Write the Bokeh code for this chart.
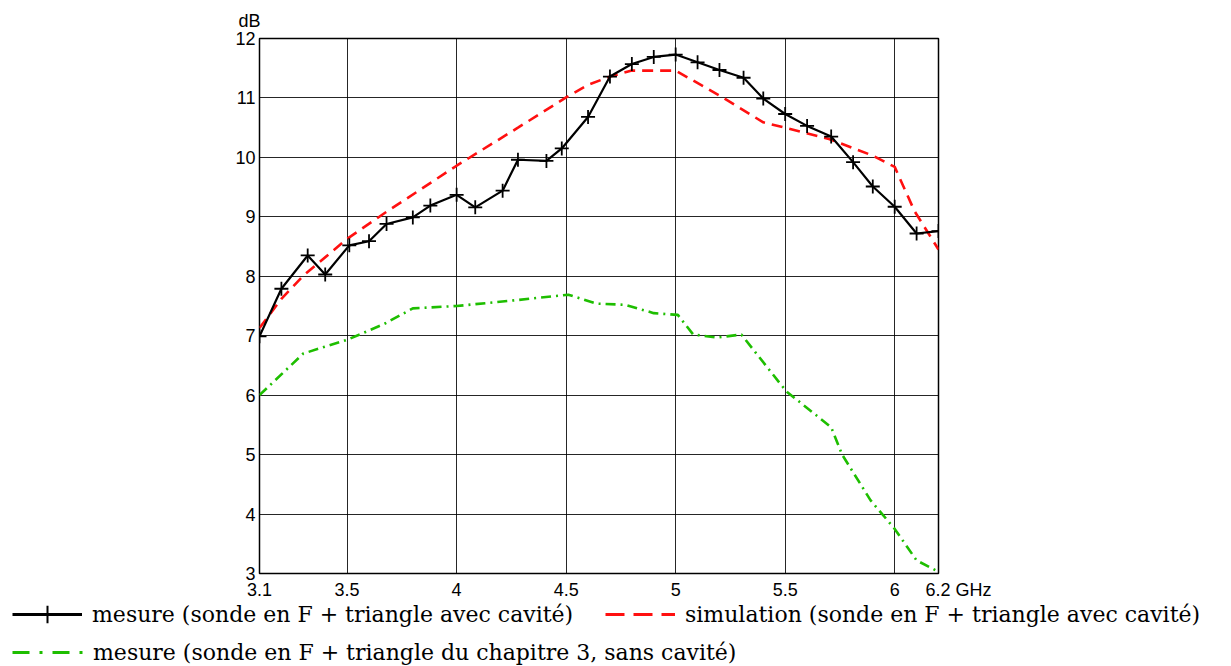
from bokeh.plotting import figure
from bokeh.models import Range1d, FixedTicker, Legend, LegendItem, Title
from bokeh.layouts import column, row
from bokeh.embed import file_html
from bokeh.resources import INLINE

# measured (sonde en F + triangle avec cavité)
mes_f = [3.10, 3.20, 3.32, 3.40, 3.51, 3.60, 3.68, 3.80, 3.88, 4.00, 4.085, 4.21, 4.28, 4.41, 4.48,
         4.60, 4.70, 4.80, 4.90, 5.00, 5.10, 5.20, 5.31, 5.40, 5.50, 5.60, 5.71, 5.81, 5.90, 6.00, 6.10, 6.20]
mes_db = [6.99, 7.79, 8.35, 8.03, 8.52, 8.59, 8.88, 8.99, 9.19, 9.37, 9.16, 9.44, 9.96, 9.94, 10.15,
          10.68, 11.36, 11.57, 11.69, 11.73, 11.60, 11.47, 11.34, 10.99, 10.73, 10.53, 10.35, 9.92, 9.51, 9.17, 8.72, 8.76]

# simulation (sonde en F + triangle avec cavité)
sim_f = [3.10, 3.20, 3.30, 3.50, 3.67, 4.00, 4.28, 4.50, 4.60, 4.70, 4.80, 5.00, 5.20, 5.40, 5.50,
         5.70, 5.90, 6.00, 6.09, 6.20]
sim_db = [7.13, 7.62, 8.01, 8.63, 9.06, 9.86, 10.50, 11.01, 11.22, 11.36, 11.46, 11.46, 11.04, 10.59, 10.50,
          10.31, 10.03, 9.84, 9.10, 8.45]

# measured (sonde en F + triangle du chapitre 3, sans cavité)
ch3_f = [3.10, 3.30, 3.42, 3.50, 3.67, 3.80, 4.00, 4.25, 4.51, 4.64, 4.77, 4.90, 5.01, 5.08, 5.19, 5.30,
         5.48, 5.51, 5.71, 5.76, 5.89, 6.00, 6.10, 6.20]
ch3_db = [6.00, 6.70, 6.84, 6.93, 7.20, 7.46, 7.50, 7.59, 7.69, 7.54, 7.52, 7.38, 7.35, 7.02, 6.97, 7.02,
          6.18, 6.05, 5.46, 5.00, 4.23, 3.75, 3.22, 3.03]

x_ticks = [3.1, 3.5, 4, 4.5, 5, 5.5, 6, 6.2]
x_labels = ["3.1", "3.5", "4", "4.5", "5", "5.5", "6", "\u00a0" * 8 + "6.2\u00a0GHz"]
y_ticks = [3, 4, 5, 6, 7, 8, 9, 10, 11, 12]

label_mes = "mesure (sonde en F + triangle avec cavité)"
label_sim = "simulation (sonde en F + triangle avec cavité)"
label_ch3 = "mesure (sonde en F + triangle du chapitre 3, sans cavité)"

RED = "#ff1010"
GREEN = "#1ebe00"

p = figure(frame_width=679, frame_height=535, output_backend="svg", toolbar_location=None,
           x_range=Range1d(3.1, 6.2), y_range=Range1d(3, 12),
           title=Title(text="dB", align="left", offset=-21, standoff=16,
                       text_font="Liberation Sans", text_font_size="18px",
                       text_font_style="normal", text_color="black"))
p.min_border_left = 259
p.min_border_right = 287
p.min_border_top = 38
p.min_border_bottom = 27
p.background_fill_color = "white"
p.border_fill_color = "white"
p.outline_line_color = "black"
p.outline_line_width = 1.5

p.xaxis.ticker = FixedTicker(ticks=x_ticks)
p.xaxis.major_label_overrides = {t: l for t, l in zip(x_ticks, x_labels)}
p.yaxis.ticker = FixedTicker(ticks=y_ticks)
p.yaxis.major_label_overrides = {t: str(t) for t in y_ticks}
for ax in (p.xaxis, p.yaxis):
    ax.axis_line_color = None
    ax.major_tick_line_color = None
    ax.minor_tick_line_color = None
    ax.major_tick_out = 0
    ax.major_tick_in = 0
    ax.minor_tick_out = 0
    ax.major_label_text_font = "Liberation Sans"
    ax.major_label_text_font_size = "18px"
    ax.major_label_text_color = "black"
p.xaxis.major_label_standoff = 6
p.yaxis.major_label_standoff = 4
p.xgrid.ticker = FixedTicker(ticks=x_ticks)
p.ygrid.ticker = FixedTicker(ticks=y_ticks)
for g in (p.xgrid, p.ygrid):
    g.grid_line_color = "black"
    g.grid_line_alpha = 0.85
    g.grid_line_width = 1

# data lines
p.line(ch3_f, ch3_db, line_color=GREEN, line_width=2.6, line_dash="10 5 2 5")
p.line(sim_f, sim_db, line_color=RED, line_width=2.6, line_dash="11 7")
p.line(mes_f, mes_db, line_color="black", line_width=2.2)
p.scatter(mes_f, mes_db, marker="cross", size=14, line_color="black", line_width=1.8)

# legend strip below the chart (its view range excludes the data, so only the swatches show)
lf = figure(width=1225, height=64, output_backend="svg", toolbar_location=None,
            x_axis_type=None, y_axis_type=None, x_range=Range1d(0, 1), y_range=Range1d(0, 1))
lf.min_border_left = 0
lf.min_border_right = 0
lf.min_border_top = 0
lf.min_border_bottom = 0
lf.outline_line_color = None
lf.grid.visible = False
lf.background_fill_color = "white"
lf.border_fill_color = "white"

lg_mes_line = lf.line(mes_f, mes_db, line_color="black", line_width=3)
lg_mes_pt = lf.scatter(mes_f, mes_db, marker="cross", size=19, line_color="black", line_width=2)
lg_sim = lf.line(sim_f, sim_db, line_color=RED, line_width=3.2, line_dash="19 9")
lg_ch3 = lf.line(ch3_f, ch3_db, line_color=GREEN, line_width=3.2, line_dash="17 10 3 10")

common = dict(padding=0, margin=0, spacing=0, label_height=26,
              label_text_font="DejaVu Serif", label_text_font_size="22px", label_text_color="black",
              background_fill_alpha=0, border_line_alpha=0)

leg1 = Legend(items=[LegendItem(label=label_mes, renderers=[lg_mes_line, lg_mes_pt]),
                     LegendItem(label=label_sim, renderers=[lg_sim])],
              orientation="horizontal", location=(12, 30), glyph_width=70, glyph_height=44,
              label_standoff=10, label_width=513, **common)
leg2 = Legend(items=[LegendItem(label=label_ch3, renderers=[lg_ch3])],
              location=(12, 1), glyph_width=76, glyph_height=26, label_standoff=5, **common)
lf.add_layout(leg1, "center")
lf.add_layout(leg2, "center")

open("out.html", "w").write(file_html(column(p, row(lf), spacing=0), INLINE))
